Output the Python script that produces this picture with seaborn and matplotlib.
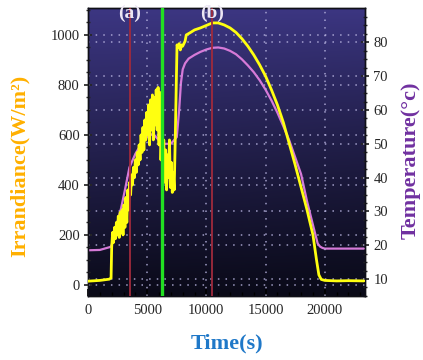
import numpy as np
import pandas as pd
import matplotlib
matplotlib.use("Agg")
import matplotlib.pyplot as plt
import matplotlib.transforms as mtransforms
import seaborn as sns

# ---------------- data ----------------
irr_time = [0, 1000, 1800, 1950,
            2000, 2080, 2160, 2240, 2320, 2400, 2480, 2560, 2640, 2720, 2800, 2880, 2960, 3040,
            3120, 3200, 3280, 3360, 3440, 3520, 3600, 3680, 3760, 3840, 3920, 4000, 4080, 4160,
            4240, 4320, 4400, 4480, 4560, 4640, 4720, 4800, 4880, 4960, 5040, 5120, 5200, 5280,
            5360, 5440, 5520, 5600, 5680, 5760, 5840, 5920, 6000, 6080, 6160, 6240, 6320, 6400,
            6480, 6560, 6640, 6720, 6800, 6880, 6960, 7040, 7120, 7200, 7280, 7360, 7440, 7520,
            7600, 7700, 7800, 7900, 8000, 8100, 8200, 8300, 8600, 9000, 9500, 10000, 10500,
            11000, 11500, 12000, 12500, 13000, 13500, 14000, 14500, 15000, 15500, 16000, 16500,
            17000, 17500, 18000, 18500, 19000, 19300, 19500, 19700, 20000, 21000, 22000, 23300]
irradiance = [15, 18, 23, 28,
              150, 210, 170, 230, 185, 250, 200, 275, 190, 290, 210, 300, 200, 320,
              230, 350, 250, 380, 300, 410, 360, 440, 400, 470, 430, 500, 450, 530,
              480, 560, 500, 600, 530, 630, 540, 660, 580, 690, 600, 720, 560, 740,
              620, 760, 580, 750, 640, 780, 620, 790, 560, 770, 500, 620, 440, 580,
              410, 540, 380, 520, 430, 580, 390, 490, 370, 450, 380, 560, 760, 960,
              950, 965, 940, 960, 955, 965, 975, 1000, 1008, 1020, 1028, 1038, 1048,
              1048, 1040, 1028, 1010, 985, 955, 920, 880, 835, 780, 720, 650,
              565, 480, 390, 300, 200, 100, 40, 22, 18, 16, 17, 16]

temp_time = [0, 1000, 1900, 2000, 2200, 2500, 2800, 3100, 3500, 4000, 4500, 5000, 5500,
             6000, 6500, 7000, 7500, 7700, 7850, 8000, 8200, 8500, 9000, 9500, 10000, 10500,
             11000, 11500, 12000, 12500, 13000, 13500, 14000, 14500, 15000, 15500, 16000,
             16500, 17000, 17500, 18000, 18500, 19000, 19400, 19600, 19800, 20000, 23300]
temperature = [18.5, 18.6, 19.5, 20, 23, 27, 31, 36, 43, 47, 50, 52, 53,
               51, 50, 50, 52, 60, 68, 72, 73.8, 75.2, 76.3, 77.2, 77.9, 78.4,
               78.5, 78.2, 77.5, 76.5, 75.0, 73.2, 71.2, 68.8, 66.0, 62.8, 59.2,
               55.2, 51, 46, 41, 33, 26, 20.5, 19.6, 19.2, 19, 19]

marker_a = 3540
marker_green = 6240
marker_b = 10450
x_ticks = [0, 5000, 10000, 15000, 20000]
irr_ticks = [0, 200, 400, 600, 800, 1000]
temp_ticks = [10, 20, 30, 40, 50, 60, 70, 80]

df_irr = pd.DataFrame({"time": irr_time, "irr": irradiance})
df_temp = pd.DataFrame({"time": temp_time, "temp": temperature})

# ---------------- style ----------------
sns.set_theme(style="ticks")
plt.rcParams["font.family"] = ["Liberation Serif", "DejaVu Serif"]

fig = plt.figure(figsize=(4.23, 3.60), dpi=100, facecolor="white")
ax_t = fig.add_axes([0.208, 0.178, 0.655, 0.800])   # temperature (right) – background
ax = fig.add_axes(ax_t.get_position(), sharex=ax_t)   # irradiance (left) on top
ax.patch.set_visible(False)

# background gradient
ny, nx = 200, 200
yy = np.linspace(0, 1, ny)[:, None]
xx = np.linspace(0, 1, nx)[None, :]
top = np.array([60, 54, 130]) / 255.0
bot = np.array([10, 10, 24]) / 255.0
f = (yy ** 1.0) * (1 - 0.3 * xx * (1 - yy))
img = bot[None, None, :] + (top - bot)[None, None, :] * f[:, :, None]
ax_t.imshow(img, extent=(0, 1, 0, 1), transform=ax_t.transAxes, aspect="auto",
            origin="lower", zorder=0)

grid_kw = dict(color="#b8b4e0", lw=1.1, ls=(0, (1, 4)), alpha=0.85)

# temperature axis (right)
sns.lineplot(data=df_temp, x="time", y="temp", ax=ax_t, color="#d67ad8", lw=1.6, zorder=3)
ax_t.set_ylim(6.2, 90.2)
ax_t.yaxis.tick_right()
ax_t.yaxis.set_label_position("right")
ax_t.set_yticks(temp_ticks)
ax_t.set_yticks(np.arange(5, 90, 2.5), minor=True)
for v in temp_ticks:
    ax_t.axhline(v, zorder=1, **grid_kw)
ax_t.set_ylabel("Temperature(°c)", color="#7030a0", fontsize=16, fontweight="bold")
ax_t.yaxis.set_label_coords(1.13, 0.47)
ax_t.set_xlabel("Time(s)", color="#1f78c8", fontsize=16, fontweight="bold", labelpad=12)

# irradiance axis (left)
sns.lineplot(data=df_irr, x="time", y="irr", ax=ax, color="#ffff10", lw=2.0, zorder=4)
ax.set_ylim(-44, 1108)
ax.set_xlim(0, 23400)
ax.set_yticks(irr_ticks)
ax.set_yticks(np.arange(0, 1101, 50), minor=True)
ax.set_ylabel("Irrandiance(W/m²)", color="#ffb000", fontsize=16, fontweight="bold")
ax.yaxis.set_label_coords(-0.21, 0.45)
ax.set_xlabel("")
for v in irr_ticks:
    ax.axhline(v, zorder=1, **grid_kw)
for v in x_ticks[1:]:
    ax.axvline(v, zorder=1, **grid_kw)

ax.axvline(marker_a, color="#a02a3c", lw=1.3, zorder=5)
ax.axvline(marker_b, color="#a02a3c", lw=1.3, zorder=5)
ax.axvline(marker_green, color="#22e022", lw=2.4, zorder=5)

trans = mtransforms.blended_transform_factory(ax.transData, ax.transAxes)
for xm, lab in [(marker_a, "(a)"), (marker_b, "(b)")]:
    ax.text(xm, 1.01, lab, transform=trans, ha="center", va="top", color="#ece6f4",
            fontsize=14, fontweight="bold", zorder=6)

ax_t.set_xticks(x_ticks)
ax_t.set_xticks(np.arange(0, 23400, 1000), minor=True)
ax.tick_params(axis="x", labelbottom=False, bottom=False, which="both")
ax_t.tick_params(axis="x", which="major", direction="in", length=5, labelsize=10.5, pad=6, color="black")
ax_t.tick_params(axis="x", which="minor", direction="in", length=3, color="black")
ax.tick_params(axis="y", which="major", direction="inout", length=6, labelsize=10.5, pad=3)
ax.tick_params(axis="y", which="minor", direction="inout", length=3)
ax_t.tick_params(axis="y", which="major", direction="inout", length=6, labelsize=10.5, pad=3)
ax_t.tick_params(axis="y", which="minor", direction="inout", length=3)
ax.tick_params(axis="x", which="both", top=False)
ax_t.tick_params(axis="x", which="both", top=False)
ax.yaxis.tick_left()

for a in (ax, ax_t):
    for s in a.spines.values():
        s.set_color("#101018")
        s.set_linewidth(1.0)

fig.savefig("out.png", dpi=100, facecolor="white")
